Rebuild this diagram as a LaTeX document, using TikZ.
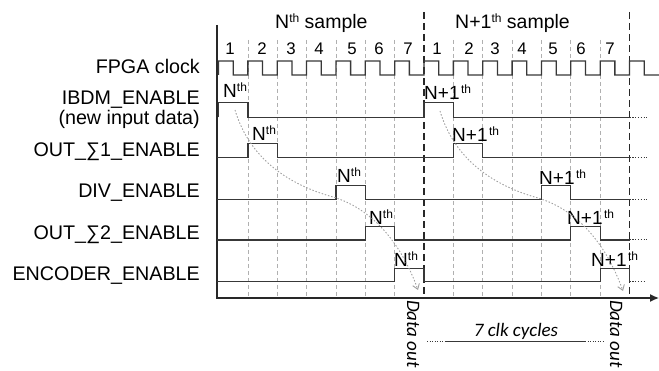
\documentclass[tikz,border=0pt]{standalone}
\usepackage{fontspec}
\setmainfont{Liberation Sans}
\newfontfamily\calfont{Carlito}
\usetikzlibrary{arrows.meta}
\definecolor{sigcol}{HTML}{383838}
\definecolor{gridcol}{HTML}{B0B0B0}
\definecolor{curvecol}{HTML}{A0A0A0}
\definecolor{axcol}{HTML}{282828}
\newcommand\thsup{\raisebox{6pt}{\fontsize{12}{12}\selectfont th}}
\begin{document}
\begin{tikzpicture}[x=1pt,y=-1pt,
  sig/.style={draw=sigcol, line width=1.3pt},
  ext/.style={draw=sigcol, line width=1pt, dash pattern=on 1.2pt off 1.6pt},
  gridline/.style={draw=gridcol, line width=0.8pt, dash pattern=on 4pt off 3pt},
  sepline/.style={draw=axcol, line width=1.2pt, dash pattern=on 7pt off 4pt},
  flow/.style={draw=curvecol, line width=0.9pt, dash pattern=on 1.5pt off 1.8pt,
    -{Straight Barb[length=5pt,width=7pt]}},
  lab/.style={inner sep=0pt, anchor=base east, font=\fontsize{19.7}{22}\selectfont},
  num/.style={inner sep=0pt, anchor=base, font=\fontsize{16.8}{18}\selectfont},
  hdr/.style={inner sep=0pt, anchor=base west, font=\fontsize{19.5}{20}\selectfont},
  plab/.style={inner sep=0pt, anchor=base west, font=\fontsize{19}{20}\selectfont},
  ital/.style={inner sep=0pt, anchor=base west, font=\fontsize{19}{22}\selectfont\calfont\itshape}]
\useasboundingbox (0,0) rectangle (659,371);

% grid lines
\foreach \gx in {247.9,277.2,306.6,335.9,365.3,394.7,453.4,482.7,512.1,541.5,570.8,600.2}
  \draw[gridline] (\gx,40) -- (\gx,298);
\draw[sepline] (424,12) -- (424,298);
\draw[sepline] (629.5,12) -- (629.5,298);

% axes
\draw[draw=axcol, line width=1.3pt, -{Latex[length=9pt,width=8pt]}] (217,25) -- (217,298) -- (659,298);

% header
\node[hdr] (hN) at (275,28.3) {N\thsup\ sample};
\node[hdr] (hN1) at (455,28.3) {N+1\thsup\ sample};

% clock numbers
\foreach \nx/\nn [count=\i] in {230/1,262/2,291/3,319/4,352/5,379/6,408/7,437/1,469/2,495/3,522/4,553/5,581/6,610/7}
  \node[num] (n\i) at (\nx,55) {\nn};

% clock
\draw[sig] (218.5,75) \foreach \a in {218.5,247.86,277.22,306.58,335.94,365.3,394.66,424.02,453.38,482.74,512.1,541.46,570.82,600.18,629.54}
  { -- (\a,61) -- ({\a+14.7},61) -- ({\a+14.7},75) -- ({\a+29.36},75) };

% IBDM
\draw[sig] (218.5,117.5) -- (218.5,102.5) -- (247.9,102.5) -- (247.9,117.5) -- (424,117.5) -- (424,102.5) -- (453.4,102.5) -- (453.4,117.5) -- (629.5,117.5);
\draw[ext] (629.5,117.5) -- (647,117.5);
% OUT S1
\draw[sig] (217,157.7) -- (247.9,157.7) -- (247.9,143.3) -- (277.2,143.3) -- (277.2,157.7) -- (453.4,157.7) -- (453.4,143.3) -- (482.7,143.3) -- (482.7,157.7) -- (629.5,157.7);
\draw[ext] (629.5,157.7) -- (647,157.7);
% DIV
\draw[sig] (217,199.3) -- (335.9,199.3) -- (335.9,185.7) -- (365.3,185.7) -- (365.3,199.3) -- (541.5,199.3) -- (541.5,185.7) -- (570.8,185.7) -- (570.8,199.3) -- (629.5,199.3);
\draw[ext] (629.5,199.3) -- (647,199.3);
% OUT S2
\draw[sig] (217,240) -- (365.3,240) -- (365.3,226.7) -- (394.7,226.7) -- (394.7,240) -- (570.8,240) -- (570.8,226.7) -- (600.2,226.7) -- (600.2,240) -- (629.5,240);
\draw[ext] (629.5,240) -- (647,240);
% ENCODER
\draw[sig] (217,281.7) -- (394.7,281.7) -- (394.7,268.3) -- (424,268.3) -- (424,281.7) -- (600.2,281.7) -- (600.2,268.3) -- (629.5,268.3) -- (629.5,281.7);
\draw[ext] (629.5,281.7) -- (645,281.7);

% signal names
\node[lab] (lclk) at (200,73.3) {FPGA clock};
\node[lab] (libdm) at (200,104.5) {IBDM\_ENABLE};
\node[lab] (lnew) at (200,124.2) {(new input data)};
\node[lab] (ls1) at (200,156.7) {OUT\_\symbol{"2211}1\_ENABLE};
\node[lab] (ldiv) at (200,197.3) {DIV\_ENABLE};
\node[lab] (ls2) at (200,239.5) {OUT\_\symbol{"2211}2\_ENABLE};
\node[lab] (lenc) at (200,280.5) {ENCODER\_ENABLE};

% pulse labels
\node[plab] (p1) at (223,97.5) {N\thsup};
\node[plab] (p2) at (252,140.5) {N\thsup};
\node[plab] (p3) at (337,183) {N\thsup};
\node[plab] (p4) at (369,225) {N\thsup};
\node[plab] (p5) at (394,267) {N\thsup};
\node[plab] (q1) at (424,100) {N+1\kern1.5pt\thsup};
\node[plab] (q2) at (452,142) {N+1\kern1.5pt\thsup};
\node[plab] (q3) at (539,184.5) {N+1\kern1.5pt\thsup};
\node[plab] (q4) at (567,225) {N+1\kern1.5pt\thsup};
\node[plab] (q5) at (591,267) {N+1\kern1.5pt\thsup};

% data flow curves
\coordinate (a0) at (235,110);
\coordinate (a1) at (333,197);
\coordinate (a2) at (418,290);
\coordinate (b0) at (440,111);
\coordinate (b1) at (538,198);
\coordinate (b2) at (623,291);
\draw[flow] (a0) .. controls (250,160) and (290,185) .. (a1) .. controls (370,208) and (400,240) .. (a2);
\draw[flow] (b0) .. controls (455,161) and (495,186) .. (b1) .. controls (575,209) and (605,241) .. (b2);

% data out
\node[ital, rotate=-90] (d1) at (407,300) {Data out};
\node[ital, rotate=-90] (d2) at (610,300) {Data out};

% 7 clk cycles
\node[ital, anchor=base] (clk7) at (516,336.7) {7 clk cycles};
\coordinate (m0) at (427,341.7);
\coordinate (m1) at (445,341.7);
\coordinate (m2) at (585,341.7);
\coordinate (m3) at (604,341.7);
\draw[draw=sigcol, line width=0.8pt, dash pattern=on 1pt off 1.5pt] (m0) -- (m1);
\draw[draw=sigcol, line width=0.8pt] (m1) -- (m2);
\draw[draw=sigcol, line width=0.8pt, dash pattern=on 1pt off 1.5pt] (m2) -- (m3);
\end{tikzpicture}
\end{document}
